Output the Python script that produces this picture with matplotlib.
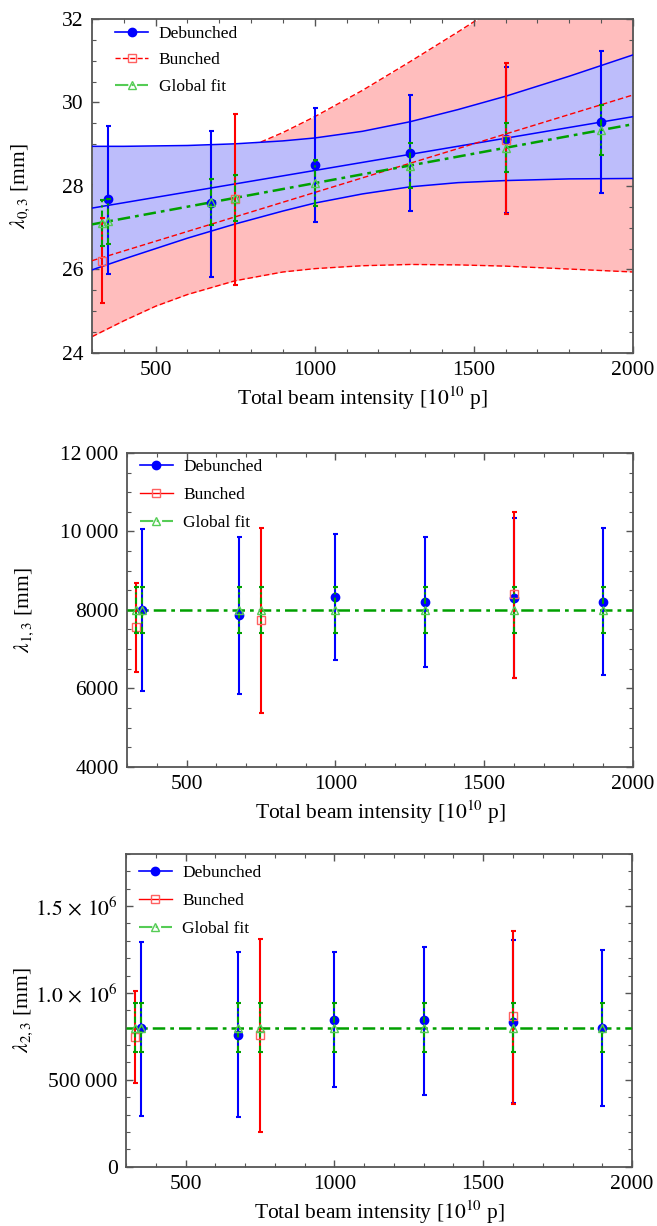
import matplotlib.pyplot as plt
import matplotlib.ticker as mticker
from matplotlib.lines import Line2D
import numpy as np

plt.rcParams['font.family'] = ['Liberation Serif', 'DejaVu Serif']
plt.rcParams['mathtext.fontset'] = 'stix'

# x positions of measurements
x_deb = [350, 675, 1000, 1300, 1600, 1900]
x_bun = [330, 750, 1600]
x_glob = [330, 350, 675, 750, 1000, 1300, 1600, 1900]

# lambda_0,3 [mm]
l0_deb = [27.68, 27.59, 28.51, 28.80, 29.12, 29.54]
l0_deb_lo = [25.89, 25.83, 27.13, 27.41, 27.35, 27.84]
l0_deb_hi = [29.44, 29.32, 29.88, 30.18, 30.86, 31.23]
l0_bun = [26.21, 27.68, 29.10]
l0_bun_lo = [25.19, 25.63, 27.33]
l0_bun_hi = [27.23, 29.72, 30.95]
l0_glob = [27.12, 27.15, 27.61, 27.72, 28.07, 28.49, 28.92, 29.34]
l0_glob_err = [0.55, 0.55, 0.55, 0.55, 0.55, 0.55, 0.58, 0.60]

# fit lines and confidence bands (lambda_0,3)
fit_x = [300, 2000]
l0_deb_fit = [27.47, 29.66]
l0_bun_fit = [26.21, 30.18]
l0_glob_fit = [27.08, 29.48]
band_x = [300, 400, 500, 600, 750, 900, 1000, 1150, 1300, 1450, 1600, 1800, 2000]
deb_band_hi = [28.95, 28.95, 28.96, 28.97, 29.01, 29.08, 29.15, 29.31, 29.54, 29.83, 30.15, 30.63, 31.14]
deb_band_lo = [25.99, 26.25, 26.50, 26.75, 27.09, 27.40, 27.59, 27.81, 27.98, 28.08, 28.13, 28.17, 28.18]
bun_band_hi = [28.03, 28.11, 28.24, 28.42, 28.79, 29.28, 29.66, 30.29, 30.98, 31.69, 32.42, 33.41, 34.42]
bun_band_lo = [24.39, 24.77, 25.12, 25.40, 25.73, 25.94, 26.02, 26.09, 26.12, 26.11, 26.08, 26.01, 25.94]

# lambda_1,3 [mm]
l1_deb = [8000, 7866, 8338, 8195, 8295, 8211]
l1_deb_lo = [5932, 5866, 6717, 6540, 6270, 6347]
l1_deb_hi = [10060, 9856, 9932, 9854, 10340, 10095]
l1_bun = [7562, 7739, 8405]
l1_bun_lo = [6413, 5367, 6270]
l1_bun_hi = [8684, 10100, 10490]
l1_glob = [8000, 8000, 8000, 8000, 8000, 8000, 8000, 8000]
l1_glob_err = [590, 590, 590, 590, 590, 590, 590, 590]
l1_glob_fit = [8000, 8000]

# lambda_2,3 [mm]
l2_deb = [800000, 760000, 846000, 842000, 835000, 800000]
l2_deb_lo = [292000, 283000, 456000, 414000, 366000, 350000]
l2_deb_hi = [1293000, 1235000, 1235000, 1264000, 1302000, 1245000]
l2_bun = [747000, 760000, 866000]
l2_bun_lo = [481000, 202000, 363000]
l2_bun_hi = [1010000, 1312000, 1356000]
l2_glob = [800000, 800000, 800000, 800000, 800000, 800000, 800000, 800000]
l2_glob_err = [140000, 140000, 140000, 140000, 140000, 140000, 140000, 140000]
l2_glob_fit = [800000, 800000]

l1_ticks = [4000, 6000, 8000, 10000, 12000]
l1_ticklabels = ['4000', '6000', '8000', '10\u2009000', '12\u2009000']
l2_ticks = [0, 500000, 1000000, 1500000]
l2_ticklabels = ['0', '500\u2009000', r'$1.0\,\times\,10^{6}$', r'$1.5\,\times\,10^{6}$']

BLUE = '#0000FF'
RED = '#FF0000'
GREEN = '#00A000'
LGREEN = '#55CC55'
LRED = '#FF6060'
FS = 15.5


def errbars(ax, x, y, lo, hi, color, marker, mfc, mec, ms, lw=1.5):
    y = np.array(y)
    yerr = [y - np.array(lo), np.array(hi) - y]
    ax.errorbar(x, y, yerr=yerr, fmt='none', ecolor=color, elinewidth=lw,
                capsize=1.8, capthick=1.5, zorder=5)
    ax.plot(x, y, ls='none', marker=marker, mfc=mfc, mec=mec, ms=ms, mew=1.0, zorder=6)


def glob_bars(ax, x, y, err):
    eb = ax.errorbar(x, y, yerr=err, fmt='none', ecolor=GREEN, elinewidth=1.5,
                     capsize=1.8, capthick=1.5, zorder=7)
    eb[2][0].set_linestyle((0, (3, 1.5, 1, 1.5)))
    ax.plot(x, y, ls='none', marker='^', mfc='none', mec=LGREEN, ms=6, mew=1.0, zorder=8)


def style(ax, ylabel, ylab_x):
    ax.set_xlim(300, 2000)
    ax.xaxis.set_major_locator(mticker.MultipleLocator(500))
    ax.xaxis.set_minor_locator(mticker.MultipleLocator(100))
    ax.tick_params(which='both', direction='in', top=True, right=True,
                   labelsize=FS, color='#555555', pad=6)
    ax.tick_params(which='major', length=5, width=1.0)
    ax.tick_params(which='minor', length=3, width=0.8)
    for s in ax.spines.values():
        s.set_color('#555555')
        s.set_linewidth(1.3)
    ax.set_xlabel(r'Total beam intensity [$10^{10}$ p]', fontsize=FS, labelpad=3)
    ax.set_ylabel(ylabel, fontsize=FS)
    ax.yaxis.set_label_coords(ylab_x, 0.5)


def legend(ax, bunched_ls, anchor, spacing=0.7):
    h = [Line2D([], [], color=BLUE, lw=1.2, marker='o', ms=6, mfc=BLUE, mec=BLUE),
         Line2D([], [], color=RED, lw=1.0, ls=bunched_ls, marker='s', ms=6, mfc='none', mec=LRED),
         Line2D([], [], color=LGREEN, lw=1.5, ls='-.', marker='^', ms=6, mfc='none', mec=LGREEN)]
    ax.legend(h, ['Debunched', 'Bunched', 'Global fit'], loc='upper left',
              bbox_to_anchor=anchor, frameon=False, fontsize=12.5,
              handlelength=1.9, handletextpad=0.6, labelspacing=spacing)


fig = plt.figure(figsize=(6.57, 12.26), dpi=100)

# panel 1
ax1 = fig.add_axes([0.140, 0.7121, 0.8234, 0.2724])
ax1.fill_between(band_x, bun_band_lo, bun_band_hi, color='#FFBDBD', lw=0, zorder=1)
ax1.plot(band_x, bun_band_lo, color=RED, lw=1.0, ls='--', dashes=(4, 2), zorder=1.5)
ax1.plot(band_x, bun_band_hi, color=RED, lw=1.0, ls='--', dashes=(4, 2), zorder=1.5)
ax1.fill_between(band_x, deb_band_lo, deb_band_hi, color='#BDBDFB', lw=0, zorder=2)
ax1.plot(band_x, deb_band_lo, color=BLUE, lw=1.1, zorder=3)
ax1.plot(band_x, deb_band_hi, color=BLUE, lw=1.1, zorder=3)
ax1.plot(fit_x, l0_deb_fit, color=BLUE, lw=1.1, zorder=3)
ax1.plot(fit_x, l0_bun_fit, color=RED, lw=1.0, ls='--', dashes=(4, 2), zorder=3)
ax1.plot(fit_x, l0_glob_fit, color=GREEN, lw=1.8, ls='-.', dashes=(5, 2, 1.5, 2), zorder=4)
errbars(ax1, x_deb, l0_deb, l0_deb_lo, l0_deb_hi, BLUE, 'o', BLUE, BLUE, 6)
errbars(ax1, x_bun, l0_bun, l0_bun_lo, l0_bun_hi, RED, 's', 'none', LRED, 6)
glob_bars(ax1, x_glob, l0_glob, l0_glob_err)
ax1.set_ylim(24, 32)
ax1.yaxis.set_major_locator(mticker.MultipleLocator(2))
ax1.yaxis.set_minor_locator(mticker.MultipleLocator(0.5))
style(ax1, r'$\lambda_{0,3}$ [mm]', -0.11)
legend(ax1, '--', (0.014, 1.027), spacing=0.6)

# panel 2
ax2 = fig.add_axes([0.1933, 0.3746, 0.7702, 0.2559])
ax2.plot(fit_x, l1_glob_fit, color=GREEN, lw=1.8, ls='-.', dashes=(5, 2, 1.5, 2), zorder=4)
errbars(ax2, x_deb, l1_deb, l1_deb_lo, l1_deb_hi, BLUE, 'o', BLUE, BLUE, 6)
errbars(ax2, x_bun, l1_bun, l1_bun_lo, l1_bun_hi, RED, 's', 'none', LRED, 6)
glob_bars(ax2, x_glob, l1_glob, l1_glob_err)
ax2.set_ylim(4000, 12000)
ax2.yaxis.set_major_locator(mticker.FixedLocator(l1_ticks))
ax2.yaxis.set_major_formatter(mticker.FixedFormatter(l1_ticklabels))
ax2.yaxis.set_minor_locator(mticker.MultipleLocator(500))
style(ax2, r'$\lambda_{1,3}$ [mm]', -0.18)
legend(ax2, '-', (-0.006, 1.032))

# panel 3
ax3 = fig.add_axes([0.1918, 0.0484, 0.7702, 0.2551])
ax3.plot(fit_x, l2_glob_fit, color=GREEN, lw=1.8, ls='-.', dashes=(5, 2, 1.5, 2), zorder=4)
errbars(ax3, x_deb, l2_deb, l2_deb_lo, l2_deb_hi, BLUE, 'o', BLUE, BLUE, 6)
errbars(ax3, x_bun, l2_bun, l2_bun_lo, l2_bun_hi, RED, 's', 'none', LRED, 6)
glob_bars(ax3, x_glob, l2_glob, l2_glob_err)
ax3.set_ylim(0, 1800000)
ax3.yaxis.set_major_locator(mticker.FixedLocator(l2_ticks))
ax3.yaxis.set_major_formatter(mticker.FixedFormatter(l2_ticklabels))
ax3.yaxis.set_minor_locator(mticker.MultipleLocator(100000))
style(ax3, r'$\lambda_{2,3}$ [mm]', -0.18)
legend(ax3, '-', (-0.006, 1.016))

fig.savefig('out.png', dpi=100)
